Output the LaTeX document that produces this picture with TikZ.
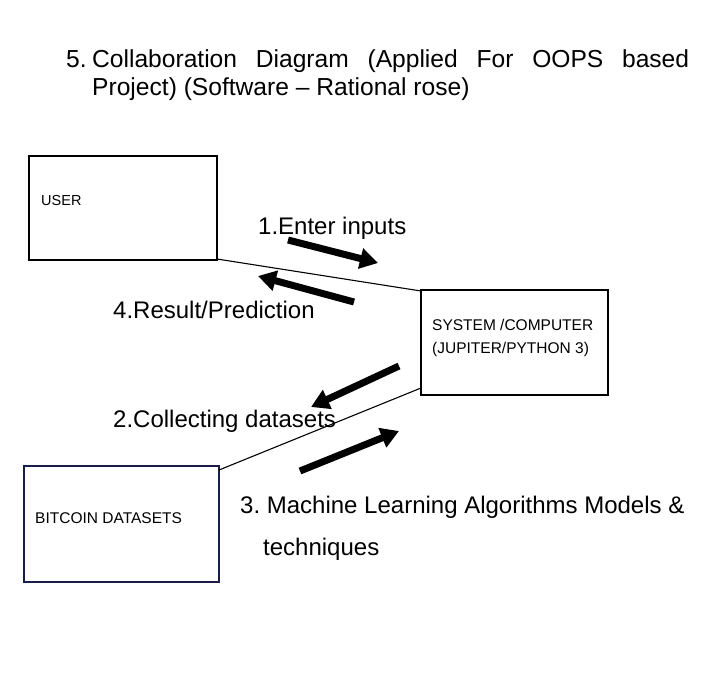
\documentclass[tikz,border=0pt]{standalone}
\usepackage{fontspec}
\setmainfont{Liberation Sans}
\usetikzlibrary{arrows.meta}
\tikzset{
  link/.style={line width=1.1pt},
  msgarrow/.style={line width=7pt, -{Triangle[length=18pt, width=20pt]}},
  boxtext/.style={font=\fontsize{15.5}{18}\selectfont, inner sep=0pt, anchor=west},
  msgtext/.style={font=\fontsize{24}{28}\selectfont, inner sep=0pt, anchor=west},
  titletext/.style={font=\fontsize{24.6}{29}\selectfont, inner sep=0pt, anchor=base west},
}
\begin{document}
\begin{tikzpicture}[x=1pt,y=-1pt]
\useasboundingbox[fill=white] (0,0) rectangle (711,688);
% title
\node[titletext] (title1) at (66,67)
  {\makebox[623pt][s]{\makebox[26pt][l]{5.}Collaboration Diagram (Applied For OOPS based}};
\node[titletext] (title2) at (92,95) {Project) (Software -- Rational rose)};
% boxes
\draw[line width=1.3pt] (29,156) rectangle (217,260);
\coordinate (userbr) at (217,259);
\node[boxtext, font=\fontsize{14.5}{18}\selectfont] (user) at (41,201) {USER};
\draw[line width=1.3pt] (421,290) rectangle (608,395);
\coordinate (systl) at (421,291);
\coordinate (sysl) at (421,388);
\node[inner sep=0pt, font=\fontsize{15.5}{23}\selectfont, align=left, anchor=west] (sys) at (432,338) {SYSTEM /COMPUTER\\(JUPITER/PYTHON 3)};
\draw[line width=1.3pt, draw={rgb,255:red,25;green,30;blue,70}] (24,466) rectangle (219,582);
\coordinate (bittr) at (219,470);
\node[boxtext] (bit) at (35,518) {BITCOIN DATASETS};
% links
\draw[link] (userbr) -- (systl);
\draw[link] (bittr) -- (sysl);
% arrows
\coordinate (a1s) at (288,240); \coordinate (a1e) at (378,263);
\coordinate (a4s) at (354,302); \coordinate (a4e) at (258,276);
\coordinate (a2s) at (399,366); \coordinate (a2e) at (311,407);
\coordinate (a3s) at (300,471); \coordinate (a3e) at (399,431);
\draw[msgarrow] (a1s) -- (a1e);
\draw[msgarrow] (a4s) -- (a4e);
\draw[msgarrow] (a2s) -- (a2e);
\draw[msgarrow] (a3s) -- (a3e);
% message labels
\node[msgtext] (m1) at (258,228) {1.Enter inputs};
\node[msgtext] (m4) at (113,310) {4.Result/Prediction};
\node[msgtext] (m2) at (113,421) {2.Collecting datasets};
\node[msgtext] (m3) at (240,507) {3.~Machine Learning Algorithms Models \&};
\node[msgtext] (m3b) at (263,549) {techniques};
\end{tikzpicture}
\end{document}
